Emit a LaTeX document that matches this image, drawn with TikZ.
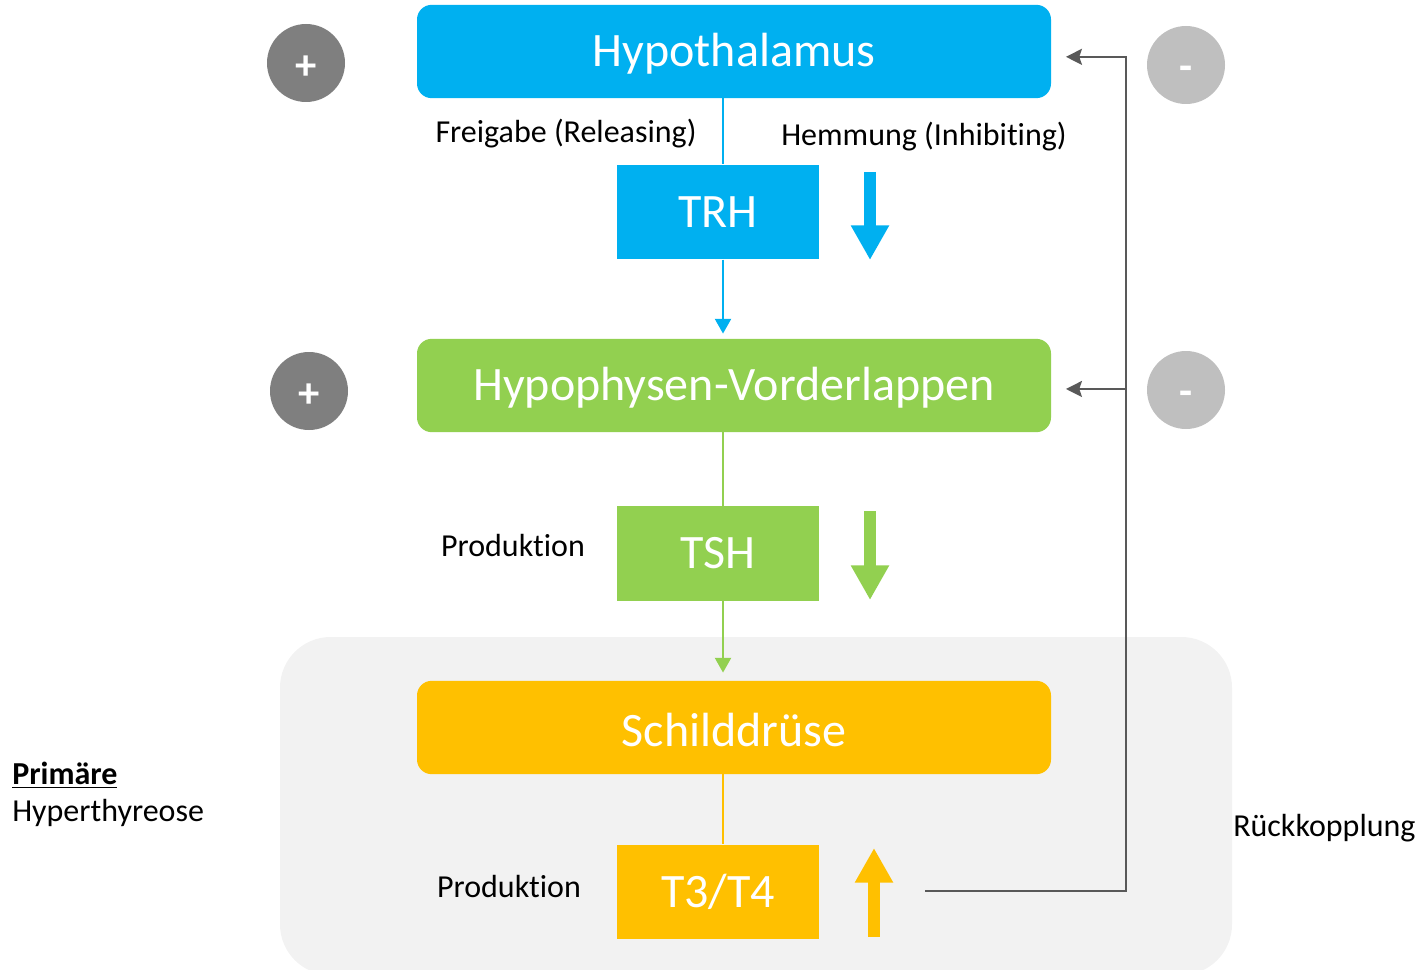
\documentclass[tikz,border=0pt]{standalone}
\usepackage{fontspec}
\setmainfont[Ligatures=NoCommon]{Carlito}
\usepackage{xcolor}
\usepackage{tikz}
\usetikzlibrary{positioning, arrows.meta}

\definecolor{HypoBlue}{HTML}{00B0F0}
\definecolor{HypoGreen}{HTML}{92D050}
\definecolor{HypoYellow}{HTML}{FFC000}
\definecolor{PlusGray}{HTML}{7F7F7F}
\definecolor{MinusGray}{HTML}{BFBFBF}
\definecolor{FeedGray}{HTML}{595959}
\definecolor{BackGray}{HTML}{F2F2F2}

\newcommand{\signtext}[2]{\raisebox{#1}[0pt][0pt]{#2}}

\begin{document}
\begin{tikzpicture}[x=0.75pt, y=-0.75pt,
		OrganNode/.style={rectangle, rounded corners=11pt, minimum width=475.5pt, minimum height=70pt, text height=28.5pt, text=white, font=\fontsize{36}{43}\selectfont},
		HormoneNode/.style={rectangle, minimum width=151.5pt, minimum height=71pt, text=white, font=\fontsize{36}{43}\selectfont},
		LabelNode/.style={inner sep=0pt, font=\fontsize{24}{29}\selectfont},
		SignNode/.style={circle, minimum size=58.5pt, text=white, font=\bfseries\fontsize{32}{36}\selectfont},
		AxisLine/.style={line width=1.5pt},
		AxisArrow/.style={line width=1.5pt, -{Triangle[width=12pt,length=11pt]}},
		BlockArrow/.style={line width=9pt, -{Triangle[width=27pt,length=26pt]}},
		FeedLine/.style={line width=1.5pt, FeedGray, -{Stealth[width=12pt,length=12pt,inset=2pt]}, shorten >=11pt}]

	\useasboundingbox (0,0) rectangle (1423,970);

	% Background
	\fill[BackGray, rounded corners=38pt] (280,637) rectangle (1232,975);

	% Nodes
	\node[OrganNode, fill=HypoBlue] (Hypothalamus) at (734,51.5) {Hypothalamus};
	\node[OrganNode, fill=HypoGreen] (Hypophyse) at (734,385.5) {Hypophysen-Vorderlappen};
	\node[OrganNode, fill=HypoYellow] (Schilddruese) at (734,727.5) {Schilddrüse};

	\node[HormoneNode, fill=HypoBlue] (TRH) at (718,212) {TRH};
	\node[HormoneNode, fill=HypoGreen] (TSH) at (718,553.5) {TSH};
	\node[HormoneNode, fill=HypoYellow] (T) at (718,892) {T3/T4};

	\node[SignNode, fill=PlusGray] (PlusHypo) at (306,63) {\signtext{-12.5pt}{+}};
	\node[SignNode, fill=PlusGray] (PlusHVL) at (309,391) {\signtext{-12.5pt}{+}};
	\node[SignNode, fill=MinusGray] (MinusHypo) at (1186,65) {\signtext{-11.5pt}{-}};
	\node[SignNode, fill=MinusGray] (MinusHVL) at (1186,390) {\signtext{-11.5pt}{-}};

	\node[LabelNode] (Freigabe) at (566,134) {Freigabe (Releasing)};
	\node[LabelNode] (Hemmung) at (924,137) {Hemmung (Inhibiting)};
	\node[LabelNode] (ProdTSH) at (513,546) {Produktion};
	\node[LabelNode] (ProdT) at (509,886) {Produktion};
	\node[LabelNode, anchor=west] (Rueck) at (1233,828) {Rückkopplung};
	\node[LabelNode, anchor=west] (Primaer) at (12,775) {\textbf{\underline{Primäre}}};
	\node[LabelNode, anchor=west] (Hyper) at (12,813) {Hyperthyreose};

	% Lines
	\coordinate (Axis) at (723,0);
	\draw[AxisLine, HypoBlue] (Axis |- Hypothalamus.south) -- (Axis |- TRH.north);
	\draw[AxisArrow, HypoBlue, shorten >=3.75pt] (Axis |- TRH.south) -- (Axis |- Hypophyse.north);
	\draw[AxisLine, HypoGreen] (Axis |- Hypophyse.south) -- (Axis |- TSH.north);
	\draw[AxisArrow, HypoGreen, shorten >=6pt] (Axis |- TSH.south) -- (Axis |- Schilddruese.north);
	\draw[AxisLine, HypoYellow] (Axis |- Schilddruese.south) -- (Axis |- T.north);

	% Up and down
	\draw[BlockArrow, HypoBlue] (870,172) -- (870,260);
	\draw[BlockArrow, HypoGreen] (870,511) -- (870,600);
	\draw[BlockArrow, HypoYellow] (874,937) -- (874,848);

	% Feedback
	\coordinate (FeedStart) at (925,891);
	\coordinate (FeedX) at (1126,0);
	\draw[FeedLine] (FeedStart) -| ([yshift=-4pt]Hypothalamus.east -| FeedX) -- ([yshift=-4pt]Hypothalamus.east);
	\draw[FeedLine] ([yshift=-2.6pt]Hypophyse.east -| FeedX) -- ([yshift=-2.6pt]Hypophyse.east);
\end{tikzpicture}
\end{document}
